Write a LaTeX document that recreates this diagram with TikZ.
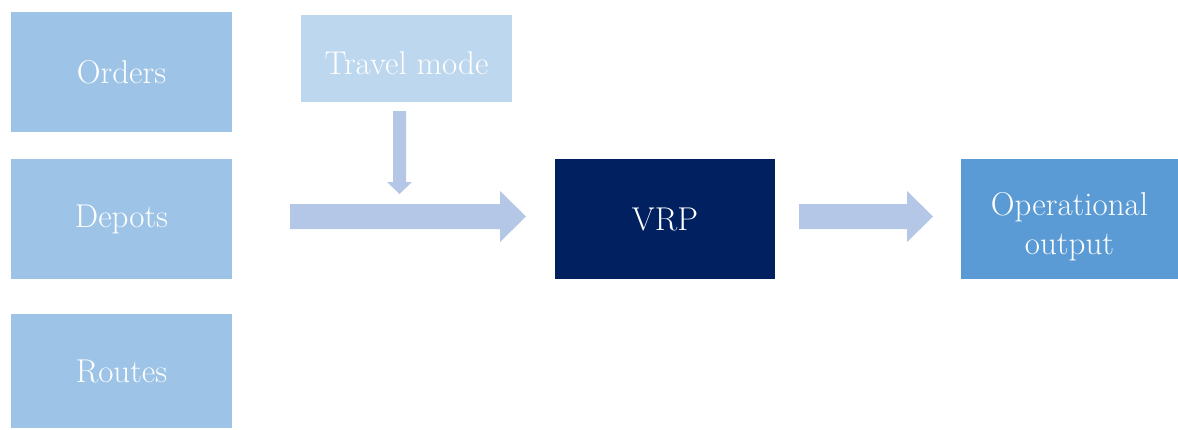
\documentclass[tikz,border=0pt]{standalone}
\usepackage{fontspec}
\begin{document}
\begin{tikzpicture}[x=1pt,y=-1pt,
  box/.style={rectangle, inner sep=0pt, align=center, text=white,
    font=\fontsize{33}{39}\selectfont},
  inbox/.style={box, fill=inblue, minimum width=221pt, minimum height=120pt},
  flow/.style={fill=flowblue}]
\definecolor{inblue}{HTML}{9DC3E6}
\definecolor{paleblue}{HTML}{BDD7EE}
\definecolor{flowblue}{HTML}{B4C7E7}
\definecolor{navy}{HTML}{002060}
\definecolor{outblue}{HTML}{5B9BD5}
\useasboundingbox (0,0) rectangle (1178,429);

% input tables
\node[inbox] (orders) at (121.5,72) {Orders};
\node[inbox] (depots) at (121.5,219) {Depots};
\node[inbox, minimum height=114pt] (routes) at (121.5,371) {Routes};

% parameter
\node[box, fill=paleblue, minimum width=211pt, minimum height=87pt] (mode) at (406.5,58.5) {};
\node[box] at (406.5,63) {Travel mode};

% solver and result
\node[box, fill=navy, minimum width=220pt, minimum height=120pt] (vrp) at (665,219) {VRP};
\node[box, fill=outblue, minimum width=217pt, minimum height=120pt] (out) at (1069.5,219) {};
\node[box] at (1069.5,227) {Operational\\output};

% block arrows
\fill[flow] (393,111) -- (406,111) -- (406,182) -- (412,182) -- (399.5,194)
  -- (387,182) -- (393,182) -- cycle;
\fill[flow] (290,204) -- (500,204) -- (500,191) -- (526,216.5) -- (500,242)
  -- (500,229) -- (290,229) -- cycle;
\fill[flow] (799,204) -- (907,204) -- (907,191) -- (933,216.5) -- (907,242)
  -- (907,229) -- (799,229) -- cycle;
\end{tikzpicture}
\end{document}
